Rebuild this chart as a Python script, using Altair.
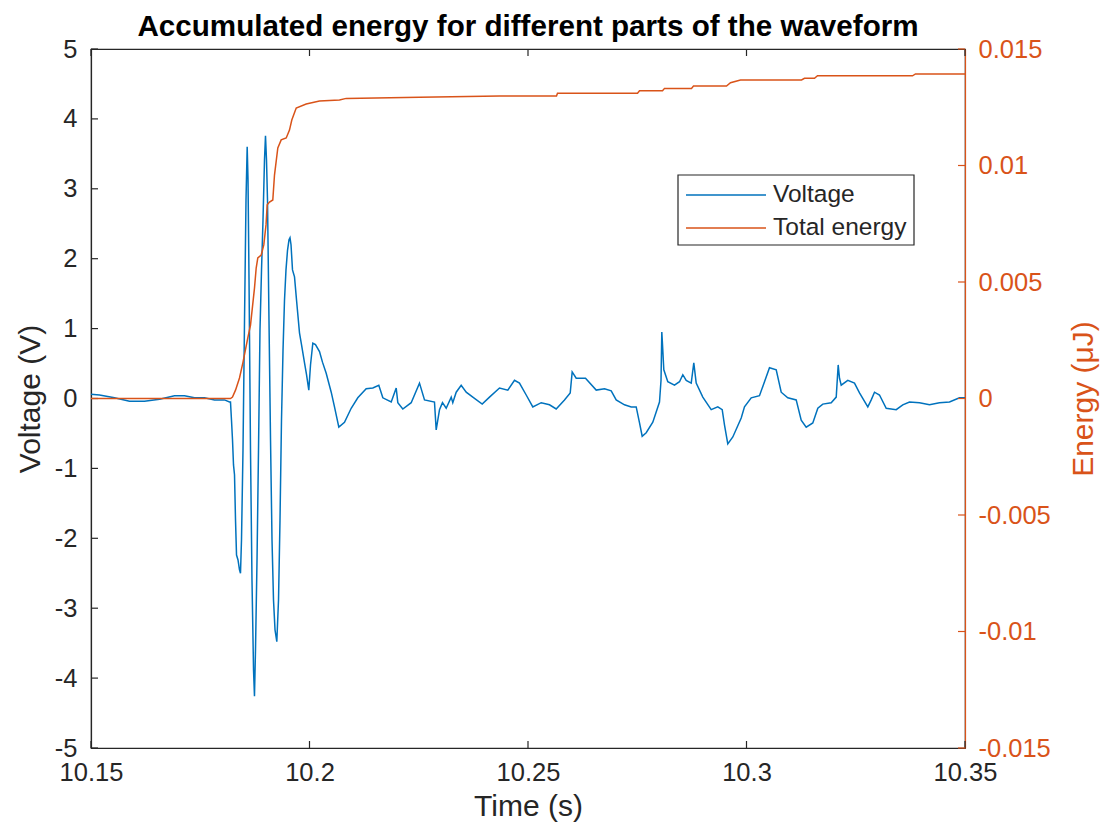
import altair as alt
import pandas as pd

# ---- Voltage waveform: time (s) and voltage (V) ----
volt_time = [
    10.15000, 10.15195, 10.15538, 10.15881, 10.16224, 10.16568, 10.16911, 10.17140, 10.17368, 10.17597,
    10.17826, 10.18055, 10.18169, 10.18192, 10.18215, 10.18238, 10.18261, 10.18284, 10.18307, 10.18330,
    10.18364, 10.18398, 10.18421, 10.18444, 10.18478, 10.18513, 10.18547, 10.18574, 10.18593, 10.18616,
    10.18650, 10.18684, 10.18719, 10.18741, 10.18764, 10.18799, 10.18833, 10.18867, 10.18902, 10.18936,
    10.18970, 10.18993, 10.19016, 10.19039, 10.19073, 10.19108, 10.19142, 10.19176, 10.19211, 10.19252,
    10.19291, 10.19325, 10.19359, 10.19394, 10.19428, 10.19462, 10.19497, 10.19531, 10.19554, 10.19577,
    10.19611, 10.19657, 10.19703, 10.19771, 10.19817, 10.19886, 10.19932, 10.19984, 10.20023, 10.20076,
    10.20137, 10.20229, 10.20297, 10.20382, 10.20497, 10.20572, 10.20671, 10.20801, 10.20954, 10.21105,
    10.21297, 10.21449, 10.21586, 10.21678, 10.21870, 10.21984, 10.22021, 10.22135, 10.22327, 10.22517,
    10.22632, 10.22860, 10.22899, 10.22975, 10.23043, 10.23128, 10.23243, 10.23279, 10.23357, 10.23471,
    10.23586, 10.23737, 10.23952, 10.24119, 10.24348, 10.24538, 10.24691, 10.24805, 10.24959, 10.25110,
    10.25302, 10.25492, 10.25645, 10.25835, 10.25966, 10.26011, 10.26103, 10.26316, 10.26561, 10.26751,
    10.26904, 10.27018, 10.27208, 10.27362, 10.27476, 10.27552, 10.27613, 10.27705, 10.27856, 10.28009,
    10.28044, 10.28062, 10.28078, 10.28108, 10.28199, 10.28352, 10.28467, 10.28543, 10.28620, 10.28735,
    10.28794, 10.28849, 10.29000, 10.29192, 10.29343, 10.29444, 10.29497, 10.29572, 10.29687, 10.29879,
    10.29954, 10.30108, 10.30297, 10.30412, 10.30526, 10.30680, 10.30794, 10.30945, 10.31137, 10.31252,
    10.31366, 10.31517, 10.31632, 10.31746, 10.31938, 10.32053, 10.32098, 10.32128, 10.32167, 10.32318,
    10.32471, 10.32586, 10.32776, 10.32854, 10.32929, 10.33043, 10.33197, 10.33426, 10.33576, 10.33730,
    10.33959, 10.34188, 10.34416, 10.34645, 10.34874, 10.35000,
]
volt_value = [
    0.06, 0.05, 0.01, -0.04, -0.04, -0.01, 0.04, 0.04, 0.01, 0.01,
    -0.02, -0.02, -0.05, -0.05, -0.31, -0.59, -0.95, -1.09, -1.74, -2.24,
    -2.31, -2.45, -2.50, -2.02, -0.74, 1.12, 2.84, 3.60, 3.13, 1.70,
    -0.74, -2.60, -3.88, -4.26, -3.60, -2.31, -0.74, 0.98, 1.84, 2.55,
    3.41, 3.76, 3.41, 2.84, 1.12, -0.59, -2.02, -2.88, -3.31, -3.48,
    -2.88, -1.74, -0.31, 0.69, 1.41, 1.84, 2.12, 2.27, 2.30, 2.20,
    1.84, 1.74, 1.41, 0.94, 0.77, 0.51, 0.34, 0.12, 0.48, 0.79,
    0.77, 0.67, 0.52, 0.36, 0.09, -0.12, -0.41, -0.34, -0.14, 0.01,
    0.14, 0.15, 0.19, 0.01, -0.05, 0.15, -0.06, -0.15, -0.06, 0.22,
    -0.02, -0.05, -0.45, -0.16, -0.06, -0.14, 0.02, -0.06, 0.09, 0.19,
    0.09, 0.02, -0.08, 0.02, 0.15, 0.12, 0.26, 0.22, 0.05, -0.12,
    -0.06, -0.09, -0.15, -0.02, 0.08, 0.38, 0.29, 0.29, 0.12, 0.14,
    0.11, -0.02, -0.09, -0.12, -0.12, -0.35, -0.54, -0.49, -0.34, -0.05,
    0.26, 0.95, 0.77, 0.41, 0.24, 0.19, 0.24, 0.34, 0.26, 0.22,
    0.51, 0.22, 0.02, -0.16, -0.12, -0.16, -0.38, -0.65, -0.55, -0.28,
    -0.12, 0.01, 0.04, 0.24, 0.44, 0.41, 0.09, 0.01, -0.02, -0.31,
    -0.41, -0.35, -0.14, -0.08, -0.06, 0.02, 0.48, 0.29, 0.19, 0.26,
    0.22, 0.08, -0.12, -0.02, 0.09, 0.05, -0.14, -0.16, -0.09, -0.05,
    -0.06, -0.09, -0.06, -0.05, 0.01, 0.01,
]

# ---- Accumulated energy: time (s) and energy (uJ) ----
energy_time = [
    10.15000, 10.18192, 10.18238, 10.18307, 10.18398, 10.18474, 10.18588, 10.18650, 10.18741, 10.18780,
    10.18817, 10.18895, 10.18954, 10.19005, 10.19032, 10.19085, 10.19160, 10.19199, 10.19275, 10.19352,
    10.19467, 10.19542, 10.19595, 10.19696, 10.19924, 10.20229, 10.20686, 10.20840, 10.22517, 10.24348,
    10.25652, 10.25675, 10.27506, 10.27552, 10.28078, 10.28124, 10.28741, 10.28787, 10.29542, 10.29634,
    10.29863, 10.31259, 10.31327, 10.31556, 10.31625, 10.33799, 10.33867, 10.35000,
]
energy_value = [
    0.0, 0.0, 0.00006, 0.00036, 0.00088, 0.00152, 0.00260, 0.00315, 0.00474, 0.00560,
    0.00603, 0.00616, 0.00659, 0.00745, 0.00831, 0.00843, 0.00852, 0.00959, 0.01075, 0.01110,
    0.01118, 0.01152, 0.01195, 0.01247, 0.01264, 0.01277, 0.01281, 0.01288, 0.01293, 0.01298,
    0.01298, 0.01310, 0.01310, 0.01321, 0.01321, 0.01331, 0.01331, 0.01341, 0.01341, 0.01355,
    0.01367, 0.01367, 0.01374, 0.01374, 0.01385, 0.01385, 0.01393, 0.01393,
]

# ---- Axis ticks and legend entries ----
time_ticks = [10.15, 10.2, 10.25, 10.3, 10.35]
volt_ticks = [-5, -4, -3, -2, -1, 0, 1, 2, 3, 4, 5]
energy_ticks = [-0.015, -0.01, -0.005, 0, 0.005, 0.01, 0.015]
series_names = ["Voltage", "Total energy"]
series_colors = ["#0072BD", "#D95319"]

AXIS = "#262626"
ORANGE = "#D95319"
FONT = "Liberation Sans"
W, H = 874, 699
TICK = 7

volt_df = pd.DataFrame({"time": volt_time, "voltage": volt_value})
energy_df = pd.DataFrame({"time": energy_time, "energy": energy_value})
xtick_df = pd.DataFrame({"time": time_ticks})
vtick_df = pd.DataFrame({"voltage": volt_ticks})
etick_df = pd.DataFrame({"energy": energy_ticks})

label_expr = "'' + datum.value"

x_scale = alt.Scale(domain=[10.15, 10.35], nice=False, zero=False)
x_axis = alt.Axis(
    values=time_ticks, title="Time (s)", labelExpr=label_expr, ticks=False, tickSize=0,
    grid=False, domainColor=AXIS, domainWidth=1.2, labelColor=AXIS, titleColor=AXIS,
    labelFontSize=25.5, titleFontSize=30, titleFontWeight="normal", labelPadding=12,
    titlePadding=6, labelFlush=False, labelOverlap=False,
)
v_scale = alt.Scale(domain=[-5, 5], nice=False, zero=False)
v_axis = alt.Axis(
    values=volt_ticks, title="Voltage (V)", orient="left", labelExpr=label_expr, ticks=False,
    tickSize=0, grid=False, domainColor=AXIS, domainWidth=1.2, labelColor=AXIS, titleColor=AXIS,
    labelFontSize=25.5, titleFontSize=30, titleFontWeight="normal", labelPadding=14,
    titlePadding=9, labelFlush=False, labelOverlap=False,
)
e_scale = alt.Scale(domain=[-0.015, 0.015], nice=False, zero=False)
e_axis = alt.Axis(
    values=energy_ticks, title="Energy (μJ)", orient="right", labelExpr=label_expr, ticks=False,
    tickSize=0, grid=False, domainColor=ORANGE, domainWidth=1.2, labelColor=ORANGE,
    titleColor=ORANGE, labelFontSize=25.5, titleFontSize=30, titleFontWeight="normal",
    labelPadding=13, titlePadding=48, titleAngle=270, labelFlush=False, labelOverlap=False,
)

x_enc = alt.X("time:Q", scale=x_scale, axis=x_axis)

# Left (voltage) side: waveform plus box ticks on left, bottom and top
volt_line = alt.Chart(volt_df).mark_line(strokeWidth=1.5, color=series_colors[0]).encode(
    x=x_enc, y=alt.Y("voltage:Q", scale=v_scale, axis=v_axis)
)
bottom_ticks = alt.Chart(xtick_df).mark_rule(color=AXIS, strokeWidth=1.2).encode(
    x=x_enc, y=alt.value(H), y2=alt.value(H - TICK)
)
top_ticks = alt.Chart(xtick_df).mark_rule(color=AXIS, strokeWidth=1.2).encode(
    x=x_enc, y=alt.value(0), y2=alt.value(TICK)
)
left_ticks = alt.Chart(vtick_df).mark_rule(color=AXIS, strokeWidth=1.2).encode(
    y=alt.Y("voltage:Q", scale=v_scale, axis=v_axis), x=alt.value(0), x2=alt.value(TICK)
)
left_side = alt.layer(volt_line, left_ticks, bottom_ticks, top_ticks)

# Right (energy) side: accumulated energy plus its own ticks
energy_line = alt.Chart(energy_df).mark_line(strokeWidth=1.5, color=series_colors[1]).encode(
    x=x_enc, y=alt.Y("energy:Q", scale=e_scale, axis=e_axis)
)
right_ticks = alt.Chart(etick_df).mark_rule(color=ORANGE, strokeWidth=1.2).encode(
    y=alt.Y("energy:Q", scale=e_scale, axis=e_axis), x=alt.value(W - TICK), x2=alt.value(W)
)
right_side = alt.layer(energy_line, right_ticks)

# Boxed legend in the upper right of the plot area
LX0, LX1, LY0, LY1 = 587, 823, 126, 196
SX0, SX1, TX = 595, 675, 682
ROW_Y = [146, 179]
one = pd.DataFrame({"k": [0]})
legend_box = alt.Chart(one).mark_rect(fill="white", stroke=AXIS, strokeWidth=1.2).encode(
    x=alt.value(LX0), x2=alt.value(LX1), y=alt.value(LY0), y2=alt.value(LY1)
)
legend_parts = [legend_box]
for name, col, ry in zip(series_names, series_colors, ROW_Y):
    legend_parts.append(
        alt.Chart(one).mark_rule(color=col, strokeWidth=1.5).encode(
            x=alt.value(SX0), x2=alt.value(SX1), y=alt.value(ry)
        )
    )
    legend_parts.append(
        alt.Chart(one).mark_text(
            text=name, align="left", baseline="middle", fontSize=24.5, font=FONT, color=AXIS
        ).encode(x=alt.value(TX), y=alt.value(ry))
    )
legend_layer = alt.layer(*legend_parts)

chart = (
    alt.layer(left_side, right_side, legend_layer)
    .resolve_scale(y="independent")
    .properties(
        width=W,
        height=H,
        padding={"left": 91, "top": 49, "right": 143, "bottom": 87},
        autosize=alt.AutoSizeParams(type="none"),
        title=alt.TitleParams(
            text="Accumulated energy for different parts of the waveform",
            fontSize=29.6, fontWeight="bold", font=FONT, color="black",
            anchor="middle", offset=-6,
        ),
    )
    .configure(font=FONT, background="white")
    .configure_view(stroke=AXIS, strokeWidth=1.2)
)

chart.save("out.html", embed_options={"renderer": "svg", "actions": False})
